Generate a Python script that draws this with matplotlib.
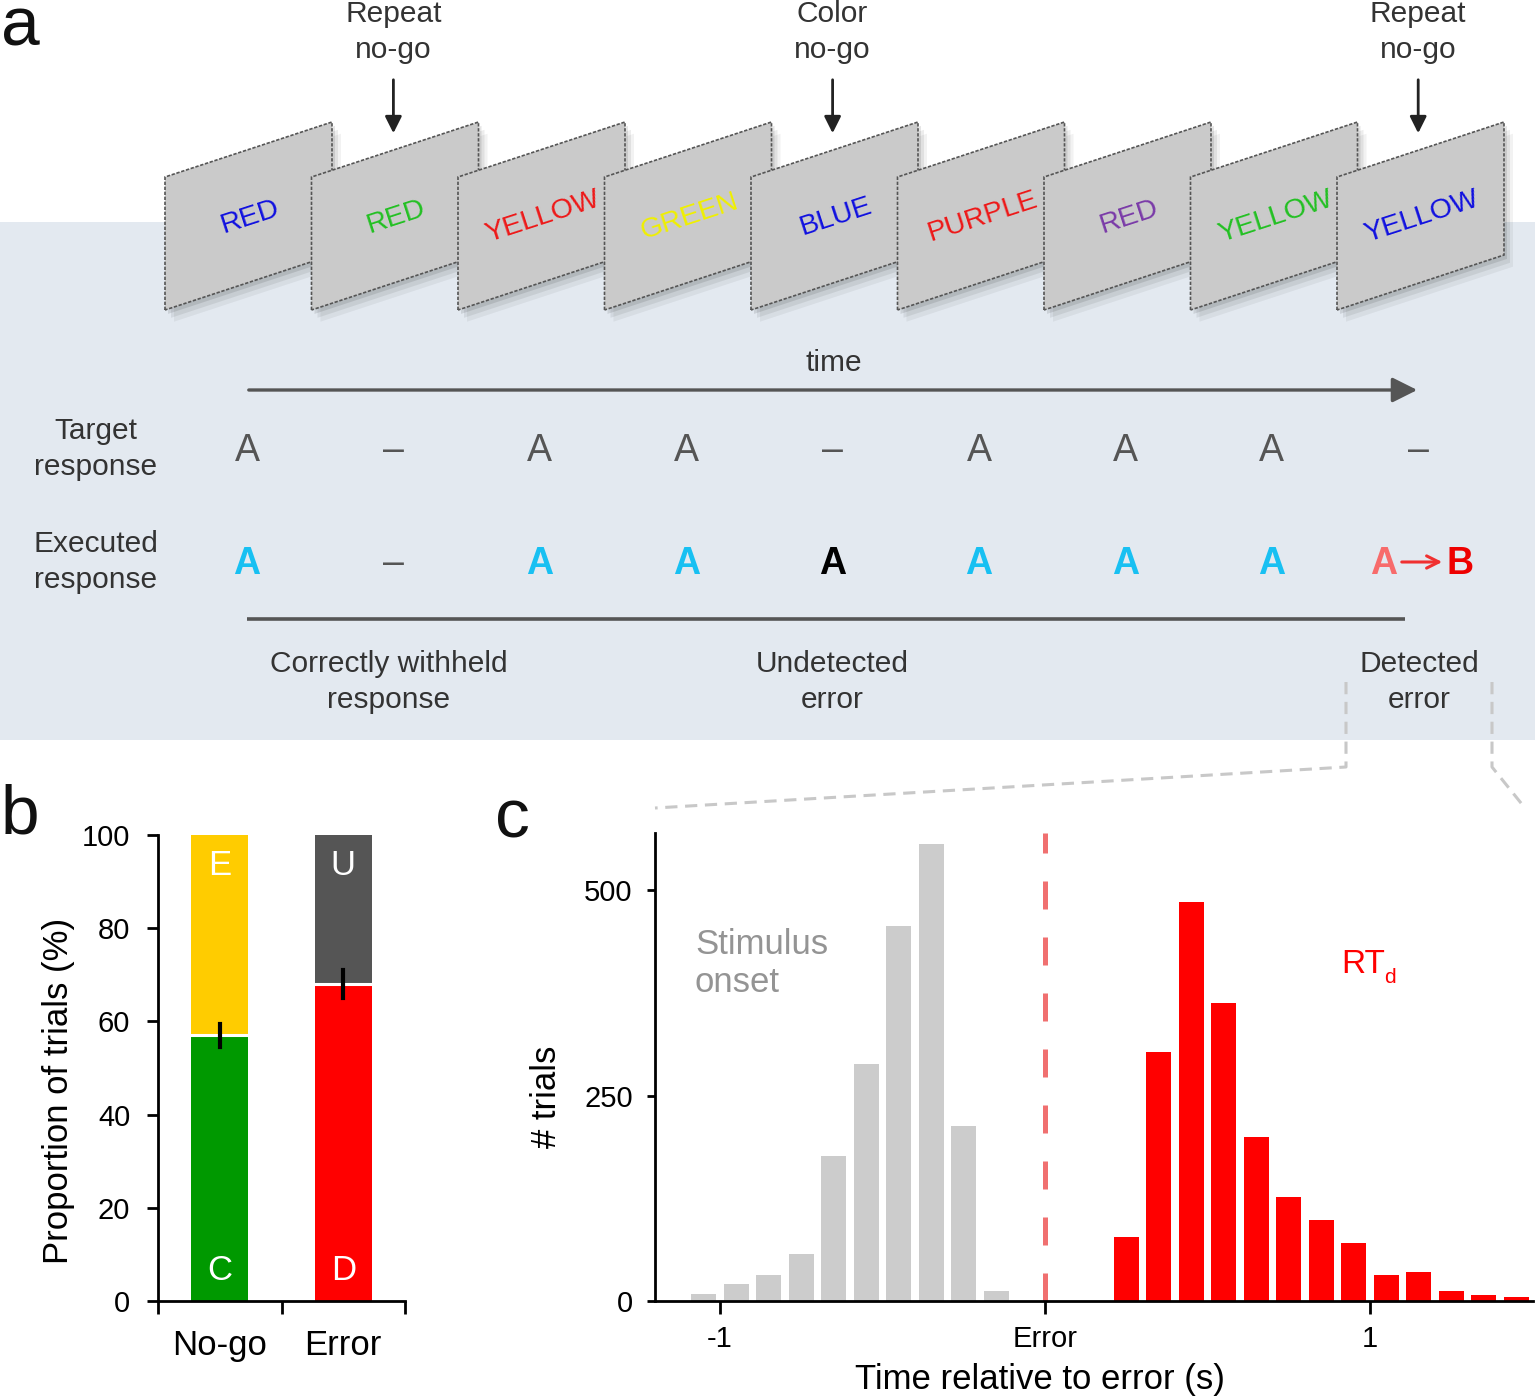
import numpy as np
import matplotlib
matplotlib.use("Agg")
import matplotlib.pyplot as plt
from matplotlib.patches import Polygon, Rectangle

plt.rcParams['font.family'] = ['Liberation Sans', 'DejaVu Sans']

# ---- data ----
card_words = ['RED', 'RED', 'YELLOW', 'GREEN', 'BLUE', 'PURPLE', 'RED', 'YELLOW', 'YELLOW']
card_colors = ['#1010E0', '#22C022', '#EE1818', '#F0F000', '#1010E0', '#EE1818', '#7A3AA8', '#22C022', '#1010E0']
nogo_marks = [(1, 'Repeat\nno-go'), (4, 'Color\nno-go'), (8, 'Repeat\nno-go')]
target_resp = ['A', '\u2013', 'A', 'A', '\u2013', 'A', 'A', 'A', '\u2013']
executed_resp = ['A', '\u2013', 'A', 'A', 'A', 'A', 'A', 'A', 'A>B']
executed_cols = ['#18C0F2', '#555555', '#18C0F2', '#18C0F2', '#000000', '#18C0F2', '#18C0F2', '#18C0F2', None]
outcome_labels = [(389, 'Correctly withheld\nresponse'), (832, 'Undetected\nerror'), (1419, 'Detected\nerror')]

b_groups = ['No-go', 'Error']
b_lower = [57, 68]           # C, D
b_lower_err = [2.5, 3.0]
b_lower_lbl = ['C', 'D']
b_upper_lbl = ['E', 'U']

stim_centers = [-1.05, -0.95, -0.85, -0.75, -0.65, -0.55, -0.45, -0.35, -0.25, -0.15]
stim_counts = [8, 21, 32, 57, 176, 288, 456, 556, 213, 12]
rt_centers = [0.25, 0.35, 0.45, 0.55, 0.65, 0.75, 0.85, 0.95, 1.05, 1.15, 1.25, 1.35, 1.45]
rt_counts = [78, 303, 486, 363, 199, 127, 98, 71, 32, 35, 12, 7, 5]

W, H = 1535, 1399
fig = plt.figure(figsize=(W / 100, H / 100), dpi=100)

# ---- panel a: drawn in pixel coordinates ----
ax0 = fig.add_axes([0, 0, 1, 1])
ax0.set_xlim(0, W)
ax0.set_ylim(H, 0)
ax0.axis('off')

ax0.add_patch(Rectangle((0, 222), W, 518, facecolor='#E3E9F0', edgecolor='none', zorder=0))

txt = '#333333'
step = 146.5
for i, (w, c) in enumerate(zip(card_words, card_colors)):
    x0 = 165 + i * step
    pts = [(x0, 310), (x0, 177), (x0 + 167, 122), (x0 + 167, 255)]
    for k, a in [(9, 0.05), (6, 0.07), (3, 0.1)]:
        sh = [(px + k, py + k * 1.3) for px, py in pts]
        ax0.add_patch(Polygon(sh, closed=True, facecolor='#000000', alpha=a,
                              edgecolor='none', zorder=2 + i * 3))
    ax0.add_patch(Polygon(pts, closed=True, facecolor='#CACACA', edgecolor='#555555',
                          lw=1.2, linestyle=(0, (2, 1)), zorder=3 + i * 3))
    ax0.text(x0 + 85, 217, w, color=c, fontsize=20.5, rotation=18, ha='center', va='center',
             rotation_mode='anchor', zorder=4 + i * 3)

for idx, lab in nogo_marks:
    xc = 247 + idx * 146.4
    ax0.text(xc, 32, lab, ha='center', va='center', fontsize=21.5, color=txt, linespacing=1.38)
    ax0.annotate('', xy=(xc, 136), xytext=(xc, 77),
                 arrowprops=dict(arrowstyle='-|>', color='#222222', lw=2, mutation_scale=25))

ax0.annotate('', xy=(1420, 390), xytext=(246, 390),
             arrowprops=dict(arrowstyle='-|>', color='#555555', lw=2.4, mutation_scale=38))
ax0.text(834, 363, 'time', ha='center', va='center', fontsize=21.5, color=txt)

ax0.text(96, 449, 'Target\nresponse', ha='center', va='center', fontsize=21.5, color=txt, linespacing=1.38)
ax0.text(96, 562, 'Executed\nresponse', ha='center', va='center', fontsize=21.5, color=txt, linespacing=1.38)

for i, r in enumerate(target_resp):
    xc = 247 + i * 146.4
    ax0.text(xc, 451, r, ha='center', va='center', fontsize=27, color='#555555')

for i, (r, c) in enumerate(zip(executed_resp, executed_cols)):
    xc = 247 + i * 146.4
    if r == 'A>B':
        ax0.text(1384, 564, 'A', ha='center', va='center', fontsize=27, fontweight='bold', color='#F76B6B')
        ax0.annotate('', xy=(1445, 562), xytext=(1399, 562),
                     arrowprops=dict(arrowstyle='->', color='#F03030', lw=2.2, mutation_scale=22))
        ax0.text(1460, 564, 'B', ha='center', va='center', fontsize=27, fontweight='bold', color='#EE0000')
    elif r == 'A':
        ax0.text(xc, 564, r, ha='center', va='center', fontsize=27, fontweight='bold', color=c)
    else:
        ax0.text(xc, 564, r, ha='center', va='center', fontsize=27, color=c)

ax0.plot([247, 1405], [619, 619], color='#555555', lw=2.6, solid_capstyle='butt')

for xc, lab in outcome_labels:
    ax0.text(xc, 682, lab, ha='center', va='center', fontsize=21.5, color=txt, linespacing=1.38)

ax0.plot([1346, 1346, 655], [682, 767, 808], color='#C8C8C8', lw=2.2, linestyle=(0, (4, 2.5)))
ax0.plot([1492, 1492, 1525], [682, 767, 808], color='#C8C8C8', lw=2.2, linestyle=(0, (4, 2.5)))

ax0.text(20, 27, 'a', ha='center', va='center', fontsize=50, color='#111111')
ax0.text(20, 815, 'b', ha='center', va='center', fontsize=50, color='#111111')
ax0.text(512, 820, 'c', ha='center', va='center', fontsize=50, color='#111111')

# ---- panel b ----
axb = fig.add_axes([158 / W, 1 - 1301 / H, 247 / W, 466 / H])
axb.patch.set_alpha(0)
xb = [0.5, 1.5]
upper = [100 - v for v in b_lower]
axb.bar(xb, b_lower, width=0.46, color=['#009900', '#FF0000'], edgecolor='none')
axb.bar(xb, upper, bottom=b_lower, width=0.46, color=['#FFCC00', '#555555'], edgecolor='none')
for x, v, e in zip(xb, b_lower, b_lower_err):
    axb.plot([x - 0.23, x + 0.23], [v, v], color='white', lw=2.2)
    axb.plot([x, x], [v - e, v + e], color='black', lw=3)
for x, l1, l2 in zip(xb, b_lower_lbl, b_upper_lbl):
    axb.text(x, 6.5, l1, ha='center', va='center', color='white', fontsize=25)
    axb.text(x, 93.5, l2, ha='center', va='center', color='white', fontsize=25)
axb.set_xlim(0, 2)
axb.set_ylim(0, 100)
axb.set_yticks([0, 20, 40, 60, 80, 100])
axb.set_xticks([0, 1, 2])
axb.set_xticklabels([])
axb.set_xticks(xb, minor=True)
axb.set_xticklabels(b_groups, minor=True, fontsize=25)
axb.tick_params(axis='x', which='minor', length=0, pad=20)
axb.tick_params(axis='x', which='major', length=9, width=2)
axb.tick_params(axis='y', length=8, width=2, labelsize=21, pad=12)
for s in ['top', 'right']:
    axb.spines[s].set_visible(False)
for s in ['left', 'bottom']:
    axb.spines[s].set_linewidth(2)
axb.set_ylabel('Proportion of trials (%)', fontsize=25)
axb.yaxis.set_label_coords(-0.335, 0.45)

# ---- panel c ----
axc = fig.add_axes([655 / W, 1 - 1301 / H, 877.5 / W, 468.5 / H])
axc.patch.set_alpha(0)
axc.bar(stim_centers, stim_counts, width=0.077, color='#CCCCCC', edgecolor='none')
axc.bar(rt_centers, rt_counts, width=0.077, color='#FF0000', edgecolor='none')
axc.axvline(0, color='#F07070', lw=3.6, linestyle=(0, (5.6, 5.6)))
axc.set_xlim(-1.2, 1.5)
axc.set_ylim(0, 570)
axc.set_yticks([0, 250, 500])
axc.set_xticks([-1, 0, 1])
axc.set_xticklabels(['-1', 'Error', '1'])
axc.tick_params(axis='x', length=9, width=2, labelsize=21, pad=8)
axc.tick_params(axis='y', length=6, width=2, labelsize=21, pad=10)
for s in ['top', 'right']:
    axc.spines[s].set_visible(False)
for s in ['left', 'bottom']:
    axc.spines[s].set_linewidth(2)
axc.set_ylabel('# trials', fontsize=25)
axc.yaxis.set_label_coords(-0.105, 0.435)
axc.set_xlabel('Time relative to error (s)', fontsize=25)
axc.xaxis.set_label_coords(0.439, -0.132)
axc.text(-1.077, 411, 'Stimulus\nonset', ha='left', va='center', fontsize=25,
         color='#949494', linespacing=1.2)
axc.text(0.91, 409, 'RT', ha='left', va='center', fontsize=24, color='#FF0000')
axc.text(1.043, 393, 'd', ha='left', va='center', fontsize=15, color='#FF0000')

fig.savefig('out.png', dpi=100)
